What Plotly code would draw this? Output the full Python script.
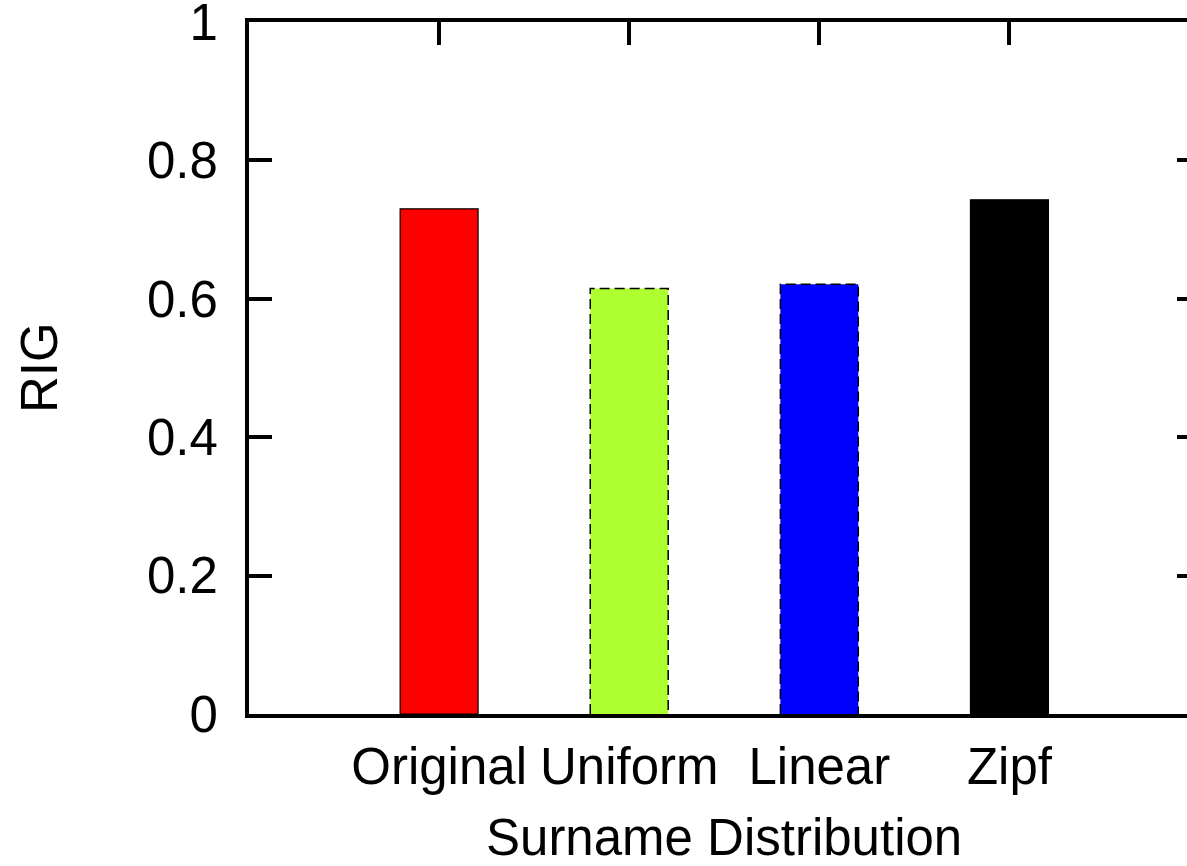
import plotly.graph_objects as go

categories = ["Original", "Uniform", "Linear", "Zipf"]
rig_values = [0.730, 0.615, 0.621, 0.743]
bar_colors = ["#ff0000", "#adff2f", "#0000ff", "#000000"]
dashed_outline = [False, True, True, False]
y_ticks = [0, 0.2, 0.4, 0.6, 0.8, 1]
y_tick_text = ["0", "0.2", "0.4", "0.6", "0.8", "1"]

positions = list(range(1, len(categories) + 1))
bar_width = 0.41
x_max = 4.934
FONT = dict(family="Liberation Sans, Arial, sans-serif", size=51, color="black")

fig = go.Figure()
fig.add_trace(go.Bar(
    x=positions, y=rig_values, width=bar_width,
    marker=dict(color=bar_colors,
                line=dict(color="black", width=[0 if d else 1.2 for d in dashed_outline])),
    showlegend=False, hoverinfo="skip",
))
for p, v, d in zip(positions, rig_values, dashed_outline):
    if d:
        xl, xr = p - bar_width / 2, p + bar_width / 2
        fig.add_trace(go.Scatter(
            x=[xl, xl, xr, xr], y=[0, v, v, 0], mode="lines",
            line=dict(color="black", width=1.5, dash="10px,5px"),
            showlegend=False, hoverinfo="skip",
        ))
# top ticks
fig.add_trace(go.Scatter(x=[positions[0]], y=[None], xaxis="x2", yaxis="y2",
                         showlegend=False, hoverinfo="skip"))

fig.update_layout(
    width=1187, height=866,
    margin=dict(l=249, r=0, t=22, b=152, autoexpand=False),
    paper_bgcolor="white", plot_bgcolor="white",
    font=FONT,
    xaxis=dict(range=[0, x_max], tickvals=positions, ticktext=categories,
               ticks="", showline=True, linewidth=4, linecolor="black", mirror=True,
               showgrid=False, zeroline=False, tickfont=FONT, ticklabelstandoff=5,
               automargin=False),
    xaxis2=dict(range=[0, x_max], overlaying="x", side="top", tickvals=positions,
                ticks="inside", ticklen=23, tickwidth=4, tickcolor="black",
                showticklabels=False, showline=False, showgrid=False, zeroline=False,
                automargin=False),
    yaxis=dict(range=[0, 1.00001], tickvals=y_ticks, ticktext=y_tick_text,
               ticks="inside", ticklen=23, tickwidth=4, tickcolor="black",
               showline=True, linewidth=4, linecolor="black", mirror=False,
               showgrid=False, zeroline=False, tickfont=FONT, ticklabelstandoff=17,
               ticklabeloverflow="allow", automargin=False),
    yaxis2=dict(range=[0, 1.00001], overlaying="y", side="right", tickvals=y_ticks,
                ticks="inside", ticklen=10, tickwidth=4, tickcolor="black",
                showticklabels=False, showline=False, showgrid=False, zeroline=False,
                automargin=False),
    annotations=[
        dict(text="Surname Distribution", x=2.5, y=0, xref="x", yref="paper",
             yanchor="top", xanchor="center", yshift=-93, showarrow=False, font=FONT),
        dict(text="RIG", x=0, y=0.5, xref="paper", yref="paper", textangle=-90,
             xanchor="center", yanchor="middle", xshift=-210, showarrow=False, font=FONT),
    ],
)

fig.write_html("out.html")
